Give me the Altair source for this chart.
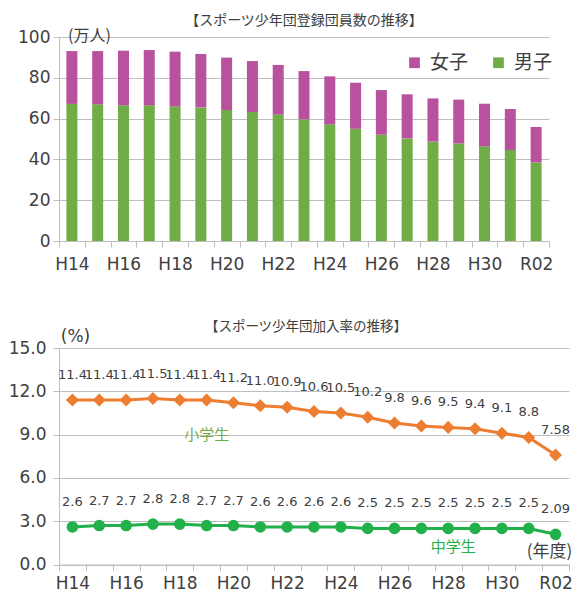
import json
import altair as alt
import pandas as pd

# ---------------- data ----------------
years = ["H14", "H15", "H16", "H17", "H18", "H19", "H20", "H21", "H22", "H23",
         "H24", "H25", "H26", "H27", "H28", "H29", "H30", "R01", "R02"]
shown_years = ["H14", "H16", "H18", "H20", "H22", "H24", "H26", "H28", "H30", "R02"]

boys = [67.2, 67.0, 66.5, 66.5, 66.0, 65.5, 64.2, 63.2, 61.9, 59.6,
        57.2, 55.0, 52.1, 50.3, 48.7, 47.8, 46.4, 44.6, 38.5]
girls = [25.9, 26.1, 26.8, 27.1, 26.8, 26.2, 25.7, 25.0, 24.4, 23.7,
         23.5, 22.6, 21.9, 21.6, 21.2, 21.5, 20.9, 20.1, 17.4]

elementary = [11.4, 11.4, 11.4, 11.5, 11.4, 11.4, 11.2, 11.0, 10.9, 10.6,
              10.5, 10.2, 9.8, 9.6, 9.5, 9.4, 9.1, 8.8, 7.58]
elementary_text = ["11.4", "11.4", "11.4", "11.5", "11.4", "11.4", "11.2", "11.0", "10.9", "10.6",
                   "10.5", "10.2", "9.8", "9.6", "9.5", "9.4", "9.1", "8.8", "7.58"]
junior = [2.6, 2.7, 2.7, 2.8, 2.8, 2.7, 2.7, 2.6, 2.6, 2.6,
          2.6, 2.5, 2.5, 2.5, 2.5, 2.5, 2.5, 2.5, 2.09]
junior_text = ["2.6", "2.7", "2.7", "2.8", "2.8", "2.7", "2.7", "2.6", "2.6", "2.6",
               "2.6", "2.5", "2.5", "2.5", "2.5", "2.5", "2.5", "2.5", "2.09"]

ann_names = ["小学生", "中学生"]
ann_years = ["H19", "H28"]
ann_values = [9.0, 1.2]

# ---------------- style ----------------
NUM = "DejaVu Sans"
CJK = "Noto Sans CJK JP"
TXT = "#404040"
GRID = "#BFBFBF"
PINK = "#B9529E"
GREEN = "#70AD47"
ORANGE = "#ED7D31"
JGREEN = "#22B04B"

bar_rows = []
for i, yr in enumerate(years):
    bar_rows.append({"year": yr, "sex": "男子", "value": boys[i], "ord": 0})
    bar_rows.append({"year": yr, "sex": "女子", "value": girls[i], "ord": 1})
bars_df = pd.DataFrame(bar_rows)

line_rows = []
for i, yr in enumerate(years):
    line_rows.append({"year": yr, "type": "小学生", "value": elementary[i], "label": elementary_text[i]})
    line_rows.append({"year": yr, "type": "中学生", "value": junior[i], "label": junior_text[i]})
line_df = pd.DataFrame(line_rows)

ann_df = pd.DataFrame({"name": ann_names, "year": ann_years, "value": ann_values,
                       "c": [GREEN, JGREEN]})

label_expr = "indexof(" + json.dumps(shown_years) + ", datum.label) >= 0 ? datum.label : ''"
band = alt.Scale(type="band", domain=years, paddingInner=0, paddingOuter=0)


def x_axis(pad, **kw):
    return alt.Axis(tickBand="extent", labelExpr=label_expr, labelAngle=0,
                    labelFont=NUM, labelFontSize=17, labelColor=TXT, labelPadding=pad,
                    tickColor=GRID, tickSize=6, domainColor=GRID, grid=False, **kw)


# ---------------- top: stacked bars ----------------
top = alt.Chart(bars_df).mark_bar(size=11).encode(
    x=alt.X("year:N", sort=years, scale=band, axis=x_axis(9, title=None)),
    y=alt.Y("value:Q", stack="zero", scale=alt.Scale(domain=[0, 100]),
            axis=alt.Axis(values=[0, 20, 40, 60, 80, 100], title="(万人)", titleAngle=0,
                          titleAlign="center", titleBaseline="middle", titleX=30, titleY=-2,
                          titleFont=CJK, titleFontSize=16, titleFontWeight="normal", titleColor=TXT,
                          labelFont=NUM, labelFontSize=17, labelColor=TXT, labelPadding=3,
                          gridColor=GRID, domainColor=GRID, tickColor=GRID, tickSize=6)),
    color=alt.Color("sex:N", scale=alt.Scale(domain=["女子", "男子"], range=[PINK, GREEN]),
                    legend=alt.Legend(title=None, orient="none", legendX=346, legendY=16,
                                      direction="horizontal", symbolType="square", symbolSize=115,
                                      symbolStrokeWidth=0, labelFont=CJK, labelFontSize=19,
                                      labelColor=TXT, columnPadding=20, labelOffset=6, padding=0)),
    order=alt.Order("ord:Q", sort="ascending"),
).properties(
    width=490, height=204,
    title=alt.Title("【スポーツ少年団登録団員数の推移】", font=CJK, fontSize=14,
                    fontWeight="normal", color=TXT, offset=-0.5, frame="group"),
)

# ---------------- bottom: lines ----------------
xenc = alt.X("year:N", sort=years, scale=band, axis=x_axis(
    5, title="(年度)", titleX=490, titleY=-13, titleAlign="center", titleBaseline="middle",
    titleFont=CJK, titleFontSize=17, titleFontWeight="normal", titleColor=TXT))
yenc = alt.Y("value:Q", scale=alt.Scale(domain=[0, 15]),
             axis=alt.Axis(values=[0, 3, 6, 9, 12, 15], format=".1f", title="(%)", titleAngle=0,
                           titleAlign="center", titleBaseline="middle", titleX=16, titleY=-12,
                           titleFont=NUM, titleFontSize=17, titleFontWeight="normal", titleColor=TXT,
                           labelFont=NUM, labelFontSize=17, labelColor=TXT, labelPadding=7,
                           gridColor=GRID, domainColor=GRID, tickColor=GRID, tickSize=6))
cenc = alt.Color("type:N", scale=alt.Scale(domain=["小学生", "中学生"], range=[ORANGE, JGREEN]),
                 legend=None)

lines = alt.Chart(line_df).mark_line(strokeWidth=3).encode(x=xenc, y=yenc, color=cenc)
points = alt.Chart(line_df).mark_point(filled=True, opacity=1).encode(
    x=xenc, y=yenc, color=cenc,
    shape=alt.Shape("type:N", scale=alt.Scale(domain=["小学生", "中学生"], range=["diamond", "circle"]),
                    legend=None),
    size=alt.Size("type:N", scale=alt.Scale(domain=["小学生", "中学生"], range=[170, 135]), legend=None),
)
labels = alt.Chart(line_df).mark_text(dy=-25, font=NUM, fontSize=13, color=TXT,
                                      baseline="middle").encode(x=xenc, y=yenc, text="label:N")
ann_elem = alt.Chart(ann_df).transform_filter(alt.datum.name == "小学生").mark_text(
    font=CJK, fontSize=15, baseline="middle").encode(
    x=xenc, y=yenc, text="name:N", color=alt.Color("c:N", scale=None))
ann_jun = alt.Chart(ann_df).transform_filter(alt.datum.name == "中学生").mark_text(
    font=CJK, fontSize=15, baseline="middle", dx=5).encode(
    x=xenc, y=yenc, text="name:N", color=alt.Color("c:N", scale=None))

bottom = alt.layer(lines, points, labels, ann_elem, ann_jun).properties(
    width=510, height=216.5,
    title=alt.Title("【スポーツ少年団加入率の推移】", font=CJK, fontSize=13.5,
                    fontWeight="normal", color=TXT, offset=-6, dx=-8, frame="group"),
)

chart = alt.vconcat(top, bottom, spacing=107, bounds="flush").resolve_scale(
    color="independent", x="independent", y="independent", shape="independent", size="independent"
).configure_view(
    stroke=None
).properties(padding={"left": 0, "top": 5, "right": 0, "bottom": 0})

chart.save("out.html", embed_options={"renderer": "svg", "actions": False})
